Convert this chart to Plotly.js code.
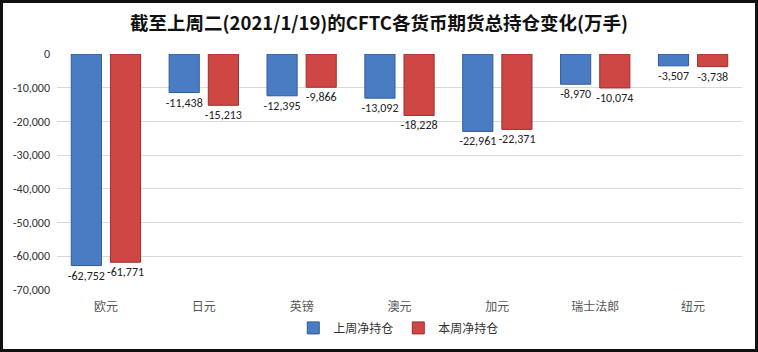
<!DOCTYPE html>
<html><head><meta charset="utf-8">
<script src="https://cdn.plot.ly/plotly-3.0.1.min.js"></script>
<style>
html,body{margin:0;padding:0;background:#fff;}
#wrap{width:758px;height:352px;box-sizing:border-box;border:3px solid #111;overflow:hidden;}
#chart{width:752px;height:346px;}
</style></head>
<body><div id="wrap"><div id="chart"></div></div>
<script>
const categories = ['欧元','日元','英镑','澳元','加元','瑞士法郎','纽元'];
const lastWeek = [-62752,-11438,-12395,-13092,-22961,-8970,-3507];
const thisWeek = [-61771,-15213,-9866,-18228,-22371,-10074,-3738];
const seriesNames = ['上周净持仓','本周净持仓'];
const yTicks = [0,-10000,-20000,-30000,-40000,-50000,-60000,-70000];

function fmt(v){
  const s = Math.abs(v).toString().replace(/\B(?=(\d{3})+(?!\d))/g, ',');
  return (v<0?'-':'') + s;
}

const cjk = '"Noto Sans CJK SC", "Noto Sans", sans-serif';
const latin = 'Carlito, "Liberation Sans", "Noto Sans CJK SC", sans-serif';

const traces = [
  {type:'bar', name:seriesNames[0], x:categories, y:lastWeek,
   text:lastWeek.map(fmt), textposition:'outside', cliponaxis:false, constraintext:'none',
   textfont:{family:latin, size:12, color:'#222'},
   marker:{color:'#4a7cc4', line:{color:'#2f5a99', width:1}}},
  {type:'bar', name:seriesNames[1], x:categories, y:thisWeek,
   text:thisWeek.map(fmt), textposition:'outside', cliponaxis:false, constraintext:'none',
   textfont:{family:latin, size:12, color:'#222'},
   marker:{color:'#cf4744', line:{color:'#9c2f2d', width:1}}}
];

const layout = {
  width:752, height:346,
  margin:{l:54, r:13, t:51, b:59, autoexpand:false},
  paper_bgcolor:'#fff', plot_bgcolor:'#fff',
  title:{text:'<b>截至上周二(2021/1/19)的CFTC各货币期货总持仓变化(万手)</b>',
    font:{family:cjk, size:18.5, color:'#111'}, x:0.5, xanchor:'center', y:0.94, yanchor:'middle'},
  barmode:'group', bargap:0.2, bargroupgap:0.23,
  xaxis:{tickfont:{family:cjk, size:12, color:'#555'}, showline:false, ticks:'', ticklabelstandoff:8},
  yaxis:{range:[-70000,0], tickvals:yTicks, ticktext:yTicks.map(fmt),
    tickfont:{family:latin, size:12, color:'#333'}, gridcolor:'#d9d9d9', gridwidth:1,
    zeroline:false, showline:false, ticks:'', ticklabelstandoff:6},
  legend:{orientation:'h', xref:'container', x:0.386, xanchor:'left', yref:'container', y:0.061, yanchor:'middle',
    font:{family:cjk, size:12, color:'#333'}, itemwidth:30, traceorder:'normal'},
  showlegend:true
};

Plotly.newPlot('chart', traces, layout, {displayModeBar:false, staticPlot:true});
</script></body></html>
